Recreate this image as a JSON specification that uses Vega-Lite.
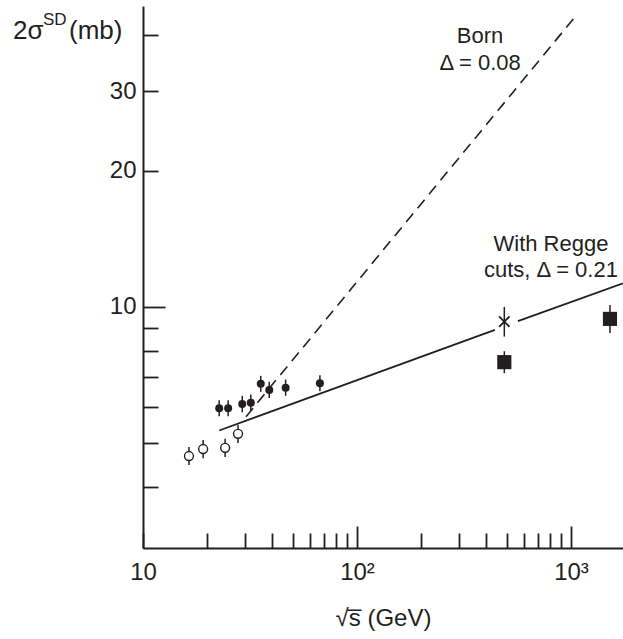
{
  "$schema": "https://vega.github.io/schema/vega-lite/v6.json",
  "autosize": {"type": "none"},
  "padding": {"left": 143, "top": 6, "right": 0, "bottom": 91},
  "width": 480,
  "height": 542,
  "config": {
    "view": {"stroke": null},
    "font": "Liberation Sans",
    "axis": {"grid": false, "domainColor": "#231f20", "domainWidth": 2, "tickColor": "#231f20", "tickWidth": 1.8, "labelColor": "#231f20", "titleColor": "#231f20", "labelFont": "Liberation Sans", "titleFont": "Liberation Sans", "labelFontWeight": "normal", "titleFontWeight": "normal"}
  },
  "datasets": {
    "pts": [
      {"kind": "open", "x": 16.4, "y": 4.68, "lo": 4.47, "hi": 4.90},
      {"kind": "open", "x": 19.1, "y": 4.85, "lo": 4.63, "hi": 5.08},
      {"kind": "open", "x": 24.2, "y": 4.88, "lo": 4.66, "hi": 5.11},
      {"kind": "open", "x": 27.8, "y": 5.24, "lo": 5.00, "hi": 5.49},
      {"kind": "filled", "x": 22.7, "y": 5.97, "lo": 5.73, "hi": 6.22},
      {"kind": "filled", "x": 25.0, "y": 5.97, "lo": 5.73, "hi": 6.22},
      {"kind": "filled", "x": 29.1, "y": 6.10, "lo": 5.85, "hi": 6.36},
      {"kind": "filled", "x": 31.9, "y": 6.14, "lo": 5.89, "hi": 6.40},
      {"kind": "filled", "x": 35.5, "y": 6.76, "lo": 6.49, "hi": 7.04},
      {"kind": "filled", "x": 38.9, "y": 6.55, "lo": 6.29, "hi": 6.83},
      {"kind": "filled", "x": 46.4, "y": 6.63, "lo": 6.36, "hi": 6.91},
      {"kind": "filled", "x": 67.1, "y": 6.78, "lo": 6.51, "hi": 7.06},
      {"kind": "square", "x": 488, "y": 7.55, "lo": 7.14, "hi": 7.98},
      {"kind": "square", "x": 1521, "y": 9.41, "lo": 8.76, "hi": 10.1},
      {"kind": "cross", "x": 488, "y": 9.28, "lo": 8.60, "hi": 10.0}
    ],
    "born": [{"x": 30.3, "y": 5.72}, {"x": 1044, "y": 43.8}],
    "regge": [
      {"seg": "a", "x": 22.7, "y": 5.33}, {"seg": "a", "x": 441, "y": 8.90},
      {"seg": "b", "x": 565, "y": 9.30}, {"seg": "b", "x": 1750, "y": 11.28}
    ],
    "centerText": [
      {"x": 376, "y": 38.4, "t": "Born"},
      {"x": 376, "y": 33.4, "t": "Δ = 0.08"},
      {"x": 806, "y": 13.3, "t": "With Regge"},
      {"x": 806, "y": 11.65, "t": "cuts, Δ = 0.21"}
    ],
    "titleBig": [
      {"x": 2.47, "y": 39.2, "t": "2σ"},
      {"x": 4.51, "y": 39.2, "t": "(mb)"}
    ],
    "titleSmall": [
      {"x": 3.41, "y": 42.1, "t": "SD"}
    ]
  },
  "layer": [
    {
      "data": {"name": "born"},
      "mark": {"type": "line", "color": "#231f20", "strokeWidth": 1.6, "strokeDash": [11, 7]},
      "encoding": {
        "x": {
          "field": "x", "type": "quantitative",
          "scale": {"type": "log", "domain": [10, 1750], "nice": false},
          "axis": {
            "values": [10, 20, 30, 40, 50, 60, 70, 80, 90, 100, 200, 300, 400, 500, 600, 700, 800, 900, 1000],
            "labelExpr": "datum.value == 10 ? '10' : datum.value == 100 ? '10²' : datum.value == 1000 ? '10³' : ''",
            "tickSize": {"condition": {"test": "datum.value == 100 || datum.value == 1000", "value": -22}, "value": -15},
            "labelFontSize": 24,
            "labelPadding": {"condition": {"test": "datum.value == 100 || datum.value == 1000", "value": 34}, "value": 27},
            "labelFlush": false,
            "labelOverlap": false,
            "title": "√s̅ (GeV)",
            "titleFontSize": 24,
            "titlePadding": 22
          }
        },
        "y": {
          "field": "y", "type": "quantitative",
          "scale": {"type": "log", "domain": [2.93, 46.3], "nice": false},
          "axis": {
            "values": [4, 5, 6, 7, 8, 9, 10, 20, 30, 40],
            "labelExpr": "datum.value == 10 || datum.value == 20 || datum.value == 30 ? datum.label : ''",
            "tickSize": {"condition": {"test": "datum.value == 10", "value": -22}, "value": -15},
            "labelFontSize": 24,
            "labelPadding": {"condition": {"test": "datum.value == 10", "value": 29}, "value": 22},
            "labelOverlap": false,
            "labelFlush": false,
            "title": null
          }
        }
      }
    },
    {
      "data": {"name": "regge"},
      "mark": {"type": "line", "color": "#231f20", "strokeWidth": 1.8},
      "encoding": {
        "x": {"field": "x", "type": "quantitative"},
        "y": {"field": "y", "type": "quantitative"},
        "detail": {"field": "seg"}
      }
    },
    {
      "data": {"name": "pts"},
      "mark": {"type": "rule", "color": "#231f20", "strokeWidth": 1.5},
      "encoding": {
        "x": {"field": "x", "type": "quantitative"},
        "y": {"field": "lo", "type": "quantitative"},
        "y2": {"field": "hi"}
      }
    },
    {
      "data": {"name": "pts"},
      "transform": [{"filter": "datum.kind == 'open'"}],
      "mark": {"type": "point", "shape": "circle", "filled": false, "fill": "white", "fillOpacity": 1, "stroke": "#231f20", "strokeWidth": 1.4, "opacity": 1, "size": 80},
      "encoding": {
        "x": {"field": "x", "type": "quantitative"},
        "y": {"field": "y", "type": "quantitative"}
      }
    },
    {
      "data": {"name": "pts"},
      "transform": [{"filter": "datum.kind == 'filled'"}],
      "mark": {"type": "point", "shape": "circle", "filled": true, "color": "#231f20", "opacity": 1, "size": 64},
      "encoding": {
        "x": {"field": "x", "type": "quantitative"},
        "y": {"field": "y", "type": "quantitative"}
      }
    },
    {
      "data": {"name": "pts"},
      "transform": [{"filter": "datum.kind == 'square'"}],
      "mark": {"type": "point", "shape": "square", "filled": true, "color": "#231f20", "opacity": 1, "size": 200},
      "encoding": {
        "x": {"field": "x", "type": "quantitative"},
        "y": {"field": "y", "type": "quantitative"}
      }
    },
    {
      "data": {"name": "pts"},
      "transform": [{"filter": "datum.kind == 'cross'"}],
      "mark": {"type": "point", "shape": "M-1,-1L1,1M-1,1L1,-1", "filled": false, "stroke": "#231f20", "strokeWidth": 1.8, "opacity": 1, "size": 110},
      "encoding": {
        "x": {"field": "x", "type": "quantitative"},
        "y": {"field": "y", "type": "quantitative"}
      }
    },
    {
      "mark": {"type": "rule", "color": "#231f20", "strokeWidth": 2},
      "encoding": {"y": {"datum": 46.3, "type": "quantitative"}}
    },
    {
      "data": {"name": "centerText"},
      "mark": {"type": "text", "align": "center", "baseline": "alphabetic", "fontSize": 22, "color": "#231f20"},
      "encoding": {
        "x": {"field": "x", "type": "quantitative"},
        "y": {"field": "y", "type": "quantitative"},
        "text": {"field": "t"}
      }
    },
    {
      "data": {"name": "titleBig"},
      "mark": {"type": "text", "align": "left", "baseline": "alphabetic", "fontSize": 26, "color": "#231f20"},
      "encoding": {
        "x": {"field": "x", "type": "quantitative"},
        "y": {"field": "y", "type": "quantitative"},
        "text": {"field": "t"}
      }
    },
    {
      "data": {"name": "titleSmall"},
      "mark": {"type": "text", "align": "left", "baseline": "alphabetic", "fontSize": 17, "color": "#231f20"},
      "encoding": {
        "x": {"field": "x", "type": "quantitative"},
        "y": {"field": "y", "type": "quantitative"},
        "text": {"field": "t"}
      }
    }
  ]
}
